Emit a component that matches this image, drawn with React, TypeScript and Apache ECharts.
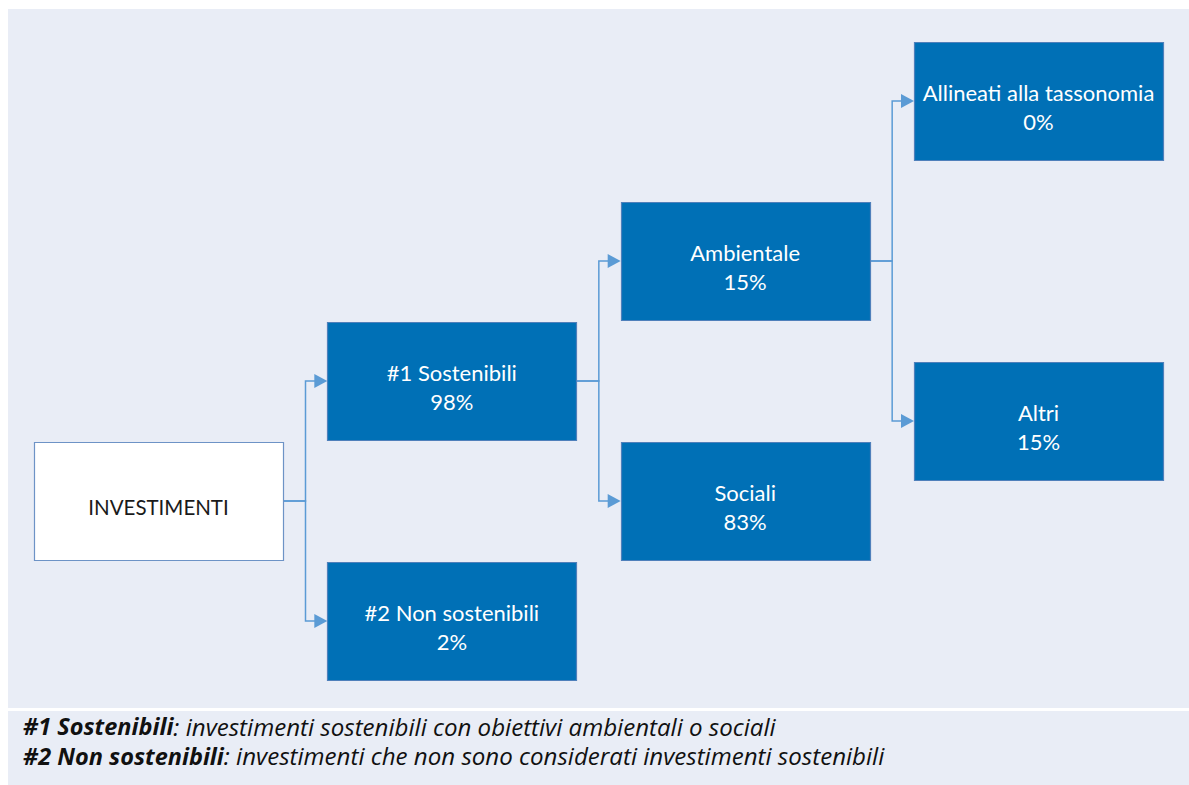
import React, { useEffect, useRef } from "react";
import * as echarts from "echarts";

// ---- data ----
const nodeNames = [
  "INVESTIMENTI",
  "#1 Sostenibili",
  "#2 Non sostenibili",
  "Ambientale",
  "Sociali",
  "Allineati alla tassonomia",
  "Altri",
];
const nodeValues: (number | null)[] = [null, 98, 2, 15, 83, 0, 15];
const nodeParents = [-1, 0, 0, 1, 1, 3, 3];
// layout: depth level and vertical slot of each node
const nodeLevels = [0, 1, 1, 2, 2, 3, 3];
const nodeRows = [10, 7, 13, 4, 10, 0, 8];

const footLabels = ["#1 Sostenibili", "#2 Non sostenibili"];
const footTexts = [
  ": investimenti sostenibili con obiettivi ambientali o sociali",
  ": investimenti che non sono considerati investimenti sostenibili",
];

const BOX_W = 249;
const BOX_H = 118;
const GAP = 22.5;
const ARROW_W = 13;
const ARROW_H = 12;
const LINE = "#5b9bd5";
const FONT = "Lato";

export default function App() {
  const ref = useRef<HTMLDivElement>(null);
  useEffect(() => {
    if (!ref.current) return;
    const chart = echarts.init(ref.current, null, { renderer: "svg" });

    const nodeData = nodeNames.map((n, i) => [nodeLevels[i], nodeRows[i], i]);
    const edgeData: number[][] = [];
    nodeParents.forEach((p, i) => {
      if (p >= 0) edgeData.push([nodeLevels[i], nodeRows[i], nodeLevels[p], nodeRows[p]]);
    });

    const footStyle = {
      fontFamily: "Open Sans",
      fontSize: 24,
      fontStyle: "italic",
      fill: "#111111",
    };

    const option: any = {
      animation: false,
      backgroundColor: "#ffffff",
      grid: { left: 158.5, right: 150.5, top: 101, bottom: 164 },
      xAxis: { type: "value", min: 0, max: 3, show: false },
      yAxis: { type: "value", min: 0, max: 13, inverse: true, show: false },
      graphic: [
        {
          type: "rect",
          z: -10,
          silent: true,
          shape: { x: 8, y: 9, width: 1181, height: 699 },
          style: { fill: "#e9edf6" },
        },
        {
          type: "rect",
          z: -10,
          silent: true,
          shape: { x: 8, y: 711, width: 1181, height: 74 },
          style: { fill: "#e9edf6" },
        },
        ...footLabels.map((lab, i) => ({
          type: "text",
          x: 23,
          y: 726 + i * 29.5,
          style: {
            text: `{b|${lab}}{i|${footTexts[i]}}`,
            verticalAlign: "middle",
            align: "left",
            ...footStyle,
            rich: {
              b: { ...footStyle, fontSize: 23.5, fontWeight: "bold" },
              i: { ...footStyle, fontSize: 24.1, fontWeight: "normal" },
            },
          },
        })),
      ],
      series: [
        {
          type: "custom",
          name: "links",
          coordinateSystem: "cartesian2d",
          clip: false,
          silent: true,
          data: edgeData,
          renderItem: (params: any, api: any) => {
            const c = api.coord([api.value(0), api.value(1)]);
            const p = api.coord([api.value(2), api.value(3)]);
            const startX = p[0] + BOX_W / 2;
            const midX = startX + GAP;
            const endX = c[0] - BOX_W / 2;
            return {
              type: "group",
              children: [
                {
                  type: "polyline",
                  shape: {
                    points: [
                      [startX, p[1]],
                      [midX, p[1]],
                      [midX, c[1]],
                      [endX - ARROW_W + 1, c[1]],
                    ],
                  },
                  style: { stroke: LINE, lineWidth: 1.5, fill: "none" },
                },
                {
                  type: "polygon",
                  shape: {
                    points: [
                      [endX, c[1]],
                      [endX - ARROW_W, c[1] - ARROW_H / 2 - 1],
                      [endX - ARROW_W, c[1] + ARROW_H / 2 + 1],
                    ],
                  },
                  style: { fill: LINE },
                },
              ],
            };
          },
        },
        {
          type: "custom",
          name: "nodes",
          coordinateSystem: "cartesian2d",
          clip: false,
          silent: true,
          data: nodeData,
          renderItem: (params: any, api: any) => {
            const idx = api.value(2);
            const c = api.coord([api.value(0), api.value(1)]);
            const isRoot = nodeParents[idx] < 0;
            const v = nodeValues[idx];
            const label = v === null ? nodeNames[idx] : `${nodeNames[idx]}\n${v}%`;
            return {
              type: "group",
              children: [
                {
                  type: "rect",
                  shape: {
                    x: Math.round(c[0] - BOX_W / 2) + 0.5,
                    y: Math.round(c[1] - BOX_H / 2) + 0.5,
                    width: BOX_W,
                    height: BOX_H,
                  },
                  style: {
                    fill: isRoot ? "#ffffff" : "#0070b6",
                    stroke: isRoot ? "#6d93c6" : "#4f80bb",
                    lineWidth: 1.2,
                  },
                },
                {
                  type: "text",
                  style: {
                    text: label,
                    x: c[0],
                    y: c[1] + 6,
                    align: "center",
                    verticalAlign: "middle",
                    fill: isRoot ? "#1a1a1a" : "#ffffff",
                    fontFamily: FONT,
                    fontSize: isRoot ? 20.5 : 22,
                    lineHeight: 29,
                  },
                },
              ],
            };
          },
        },
      ],
    };
    chart.setOption(option);
    return () => chart.dispose();
  }, []);

  return (
    <div
      ref={ref}
      style={{ position: "fixed", left: 0, top: 0, width: 1189, height: 785 }}
    />
  );
}
